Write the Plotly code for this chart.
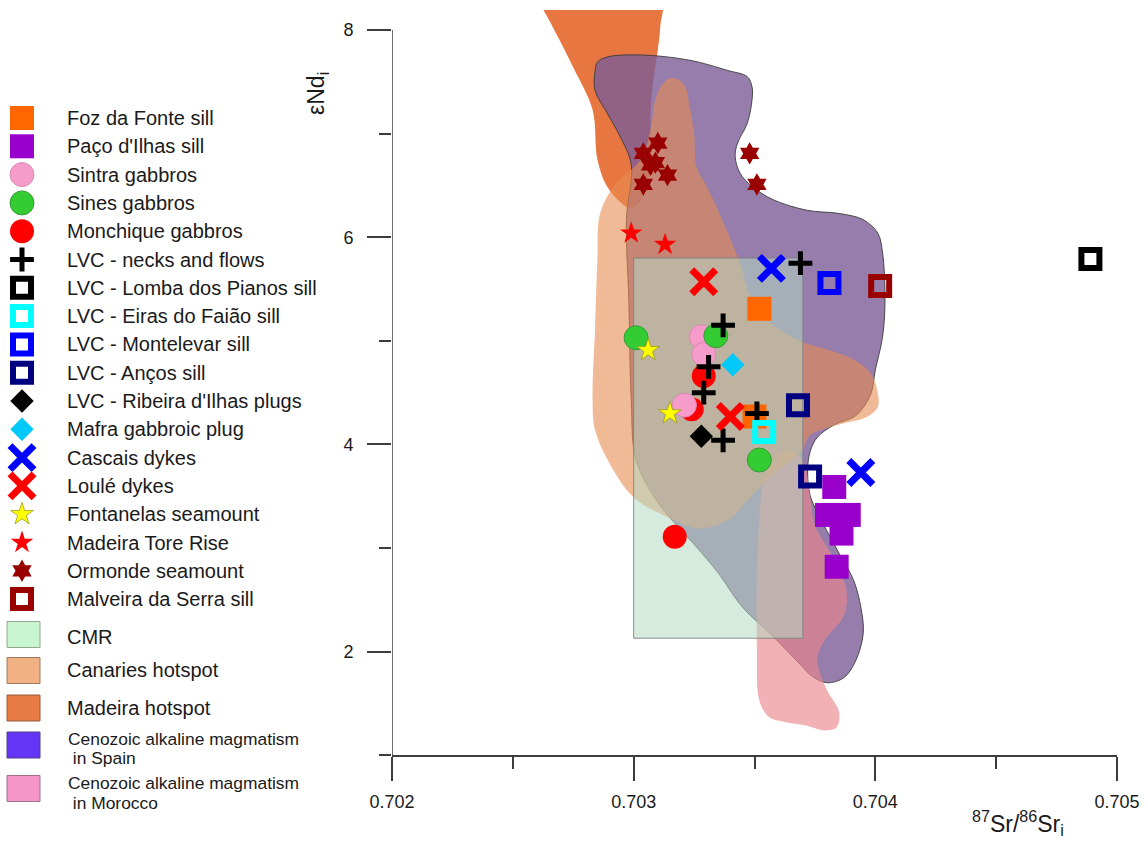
import plotly.graph_objects as go

FIG_W, FIG_H = 1148, 841

# ---------------- sample data: 87Sr/86Sr(i) vs eNd(i) ----------------
foz_sr = [0.70352, 0.70350]
foz_nd = [5.31, 4.27]
paco_sr = [0.70383, 0.70380, 0.70389, 0.70386, 0.70384]
paco_nd = [3.59, 3.32, 3.32, 3.14, 2.82]
sintra_sr = [0.70328, 0.70329, 0.70321]
sintra_nd = [5.04, 4.87, 4.38]
sines_sr = [0.70301, 0.70334, 0.70352]
sines_nd = [5.03, 5.05, 3.85]
monchique_sr = [0.70329, 0.70324, 0.70317]
monchique_nd = [4.66, 4.34, 3.11]
necks_sr = [0.70369, 0.70337, 0.70331, 0.70329, 0.70351, 0.70337]
necks_nd = [5.75, 5.15, 4.75, 4.50, 4.30, 4.04]
lomba_sr = [0.70489]
lomba_nd = [5.79]
eiras_sr = [0.70354]
eiras_nd = [4.12]
montelevar_sr = [0.70381]
montelevar_nd = [5.56]
ancos_sr = [0.70368, 0.70373]
ancos_nd = [4.38, 3.69]
ribeira_sr = [0.70328]
ribeira_nd = [4.08]
mafra_sr = [0.70341]
mafra_nd = [4.77]
cascais_sr = [0.70357, 0.70394]
cascais_nd = [5.70, 3.73]
loule_sr = [0.70329, 0.70340]
loule_nd = [5.57, 4.27]
fontanelas_sr = [0.70306, 0.70315]
fontanelas_nd = [4.91, 4.30]
tore_sr = [0.70299, 0.70313]
tore_nd = [6.04, 5.93]
ormonde_sr = [0.70310, 0.70304, 0.70307, 0.70309, 0.70314, 0.70304, 0.70348, 0.70351]
ormonde_nd = [6.91, 6.81, 6.70, 6.72, 6.60, 6.51, 6.81, 6.51]
malveira_sr = [0.70402]
malveira_nd = [5.53]

# ---------------- reference fields (outline vertices, Sr / Nd) ----------------
madeira_outline = [(0.70311, 8.40), (0.70257, 8.40), (0.70263, 8.18), (0.70275, 7.64),
                   (0.70283, 7.23), (0.70285, 6.75), (0.70289, 6.49), (0.70296, 6.31),
                   (0.70299, 6.28), (0.70303, 6.36), (0.70306, 6.55), (0.70307, 6.84),
                   (0.70307, 7.23), (0.70308, 7.49), (0.70310, 7.81), (0.70311, 8.03)]
spain_outline = [(0.70303, 7.76), (0.70323, 7.71), (0.70339, 7.61), (0.70347, 7.55),
                 (0.70349, 7.45), (0.70349, 7.33), (0.70347, 7.10), (0.70343, 6.91),
                 (0.70342, 6.78), (0.70344, 6.62), (0.70349, 6.49), (0.70358, 6.36),
                 (0.70372, 6.26), (0.70385, 6.23), (0.70395, 6.17), (0.70401, 6.04),
                 (0.70403, 5.85), (0.70404, 5.39), (0.70403, 5.04), (0.70400, 4.72),
                 (0.70398, 4.48), (0.70392, 4.28), (0.70383, 4.19), (0.70376, 4.07),
                 (0.70373, 3.93), (0.70372, 3.75), (0.70373, 3.51), (0.70377, 3.30),
                 (0.70385, 2.95), (0.70391, 2.69), (0.70394, 2.43), (0.70395, 2.18),
                 (0.70392, 1.92), (0.70387, 1.75), (0.70380, 1.70), (0.70374, 1.76),
                 (0.70368, 1.90), (0.70358, 2.14), (0.70345, 2.43), (0.70335, 2.76),
                 (0.70326, 3.01), (0.70319, 3.19), (0.70310, 3.44), (0.70301, 3.85),
                 (0.70299, 4.43), (0.70298, 5.39), (0.70297, 6.17), (0.70299, 6.70),
                 (0.70294, 6.99), (0.70289, 7.20), (0.70284, 7.42), (0.70284, 7.60),
                 (0.70285, 7.69), (0.70289, 7.74)]
morocco_outline = [(0.70363, 3.93), (0.70368, 3.90), (0.70371, 3.77), (0.70373, 3.51),
                   (0.70375, 3.22), (0.70383, 2.89), (0.70388, 2.60), (0.70387, 2.35),
                   (0.70379, 2.11), (0.70376, 1.92), (0.70380, 1.63), (0.70385, 1.42),
                   (0.70384, 1.27), (0.70379, 1.24), (0.70371, 1.29), (0.70363, 1.32),
                   (0.70356, 1.37), (0.70352, 1.53), (0.70351, 2.02), (0.70351, 2.69),
                   (0.70352, 3.27), (0.70354, 3.66), (0.70359, 3.87)]
canaries_outline = [(0.70316, 7.54), (0.70321, 7.47), (0.70323, 7.28), (0.70325, 7.01),
                    (0.70326, 6.68), (0.70330, 6.50), (0.70333, 6.36), (0.70339, 6.04),
                    (0.70344, 5.75), (0.70349, 5.39), (0.70359, 5.13), (0.70370, 4.99),
                    (0.70381, 4.91), (0.70391, 4.82), (0.70398, 4.69), (0.70401, 4.50),
                    (0.70401, 4.36), (0.70396, 4.26), (0.70388, 4.21), (0.70380, 4.16),
                    (0.70373, 4.09), (0.70369, 3.92), (0.70358, 3.72), (0.70347, 3.46),
                    (0.70339, 3.27), (0.70327, 3.19), (0.70314, 3.30), (0.70300, 3.49),
                    (0.70290, 3.82), (0.70284, 4.14), (0.70283, 4.43), (0.70284, 5.11),
                    (0.70285, 5.78), (0.70286, 6.22), (0.70292, 6.50), (0.70303, 6.75),
                    (0.70307, 7.04), (0.70309, 7.33), (0.70312, 7.48)]
cmr_sr = [0.70300, 0.70370]
cmr_nd = [2.13, 5.80]

# axis ticks
x_major = [0.702, 0.703, 0.704, 0.705]
x_minor = [0.7025, 0.7035, 0.7045]
y_major = [2, 4, 6, 8]
y_minor = [1, 3, 5, 7]

# legend entries (symbol series, then field swatches)
legend_labels = ["Foz da Fonte sill", "Paço d'Ilhas sill", "Sintra gabbros", "Sines gabbros",
                 "Monchique gabbros", "LVC - necks and flows", "LVC - Lomba dos Pianos sill",
                 "LVC - Eiras do Faião sill", "LVC - Montelevar sill", "LVC - Anços sill",
                 "LVC - Ribeira d'Ilhas plugs", "Mafra gabbroic plug", "Cascais dykes",
                 "Loulé dykes", "Fontanelas seamount", "Madeira Tore Rise", "Ormonde seamount",
                 "Malveira da Serra sill"]
field_labels = [["CMR"], ["Canaries hotspot"], ["Madeira hotspot"],
                ["Cenozoic alkaline magmatism", " in Spain"],
                ["Cenozoic alkaline magmatism", " in Morocco"]]

AX = "#3c3c3c"
TXT = "#1a1a1a"
FONT = "Liberation Sans, Arial, sans-serif"


def open_sq(c):
    return dict(symbol="square-open", size=18, color=c, line=dict(width=6, color=c))


def thin(sym, size, c, w):
    return dict(symbol=sym, size=size, color=c, line=dict(width=w, color=c))


series = {
    "Foz da Fonte sill": (foz_sr, foz_nd, dict(symbol="square", size=24, color="#FF6600", line=dict(width=0))),
    "Paço d'Ilhas sill": (paco_sr, paco_nd, dict(symbol="square", size=24, color="#9900CC", line=dict(width=0))),
    "Sintra gabbros": (sintra_sr, sintra_nd, dict(symbol="circle", size=24, color="#F79BCB", line=dict(width=1, color="#D98AB4"))),
    "Sines gabbros": (sines_sr, sines_nd, dict(symbol="circle", size=24, color="#33CC33", line=dict(width=1, color="#3A9A3A"))),
    "Monchique gabbros": (monchique_sr, monchique_nd, dict(symbol="circle", size=24, color="#FF0000", line=dict(width=0))),
    "LVC - necks and flows": (necks_sr, necks_nd, thin("cross-thin", 17, "#000000", 5)),
    "LVC - Lomba dos Pianos sill": (lomba_sr, lomba_nd, open_sq("#000000")),
    "LVC - Eiras do Faião sill": (eiras_sr, eiras_nd, open_sq("#00FFFF")),
    "LVC - Montelevar sill": (montelevar_sr, montelevar_nd, open_sq("#0000FF")),
    "LVC - Anços sill": (ancos_sr, ancos_nd, open_sq("#000080")),
    "LVC - Ribeira d'Ilhas plugs": (ribeira_sr, ribeira_nd, dict(symbol="diamond", size=18, color="#000000", line=dict(width=0))),
    "Mafra gabbroic plug": (mafra_sr, mafra_nd, dict(symbol="diamond", size=18, color="#00C8F8", line=dict(width=0))),
    "Cascais dykes": (cascais_sr, cascais_nd, thin("x-thin", 24, "#0000FF", 7)),
    "Loulé dykes": (loule_sr, loule_nd, thin("x-thin", 24, "#FF0000", 7)),
    "Fontanelas seamount": (fontanelas_sr, fontanelas_nd, dict(symbol="star", size=17, color="#FFFF00", line=dict(width=0.8, color="#9A9A20"))),
    "Madeira Tore Rise": (tore_sr, tore_nd, dict(symbol="star", size=17, color="#FF0000", line=dict(width=0))),
    "Ormonde seamount": (ormonde_sr, ormonde_nd, dict(symbol="hexagram", size=17, color="#990000", line=dict(width=0))),
    "Malveira da Serra sill": (malveira_sr, malveira_nd, open_sq("#990000")),
}

draw_order = ["Paço d'Ilhas sill", "Foz da Fonte sill", "Monchique gabbros", "Sintra gabbros",
              "Sines gabbros", "LVC - necks and flows", "LVC - Lomba dos Pianos sill",
              "LVC - Eiras do Faião sill", "LVC - Montelevar sill", "LVC - Anços sill",
              "LVC - Ribeira d'Ilhas plugs", "Mafra gabbroic plug", "Cascais dykes",
              "Loulé dykes", "Fontanelas seamount", "Madeira Tore Rise", "Ormonde seamount",
              "Malveira da Serra sill"]

fig = go.Figure()


def add_field(outline, fill, line_color=None, line_width=0, smooth=True):
    xs = [p[0] for p in outline] + [outline[0][0]]
    ys = [p[1] for p in outline] + [outline[0][1]]
    fig.add_trace(go.Scatter(
        x=xs, y=ys, mode="lines", fill="toself", fillcolor=fill,
        line=dict(shape="spline" if smooth else "linear", smoothing=1.0,
                  width=line_width, color=line_color or "rgba(0,0,0,0)"),
        hoverinfo="skip", showlegend=False))


# reference fields, back to front
add_field(madeira_outline, "rgb(232,118,64)")
add_field(spain_outline, "rgba(124,93,151,0.8)", "rgba(60,60,60,0.9)", 1)
add_field(morocco_outline, "rgba(235,135,140,0.65)")
add_field(canaries_outline, "rgba(232,140,80,0.6)")
cmr_box = [(cmr_sr[0], cmr_nd[0]), (cmr_sr[1], cmr_nd[0]), (cmr_sr[1], cmr_nd[1]), (cmr_sr[0], cmr_nd[1])]
add_field(cmr_box, "rgba(180,217,195,0.55)", "rgba(130,130,130,0.9)", 1, smooth=False)

# samples
for name in draw_order:
    xs, ys, mk = series[name]
    fig.add_trace(go.Scatter(x=xs, y=ys, mode="markers", marker=mk, name=name,
                             showlegend=False, cliponaxis=False))

# ---------------- legend panel (pixel-scaled helper axes) ----------------
LEG_W = 330
row_y = [118 + 28.3 * i for i in range(len(legend_labels))]
annotations = []
for label, yy in zip(legend_labels, row_y):
    _, _, mk = series[label]
    fig.add_trace(go.Scatter(x=[22], y=[yy], mode="markers", marker=mk, xaxis="x2", yaxis="y2",
                             showlegend=False, hoverinfo="skip", cliponaxis=False))
    annotations.append(dict(x=65, y=yy, xref="x2", yref="y2", text=label, showarrow=False,
                            xanchor="left", yanchor="middle",
                            font=dict(family=FONT, size=20, color=TXT)))

swatch_fill = ["#C8F5CD", "#F0B283", "#E87A46", "#6435F5", "#F596C8"]
swatch_line = ["#8FA890", "#A07860", "#9A5A3A", "#55408A", "#A07090"]
swatch_y = [634.5, 670.5, 708, 745, 788.5]
text_rows = [[637], [670], [708], [739, 758], [783, 803]]
shapes = []
for lines, fillc, linec, yc, ty in zip(field_labels, swatch_fill, swatch_line, swatch_y, text_rows):
    shapes.append(dict(type="rect", xref="x2", yref="y2", x0=7, x1=40, y0=yc - 13, y1=yc + 13,
                       fillcolor=fillc, line=dict(color=linec, width=1)))
    small = len(lines) > 1
    for txt, tyy in zip(lines, ty):
        annotations.append(dict(x=66 if small else 65, y=tyy, xref="x2", yref="y2",
                                text=txt.replace(" ", "&nbsp;", 1) if txt.startswith(" ") else txt,
                                showarrow=False, xanchor="left", yanchor="middle",
                                font=dict(family=FONT, size=17.4 if small else 20, color=TXT)))

# y axis line drawn only between Nd = 1 and 8
shapes.append(dict(type="line", xref="x", yref="y", x0=x_major[0], x1=x_major[0],
                   y0=y_minor[0], y1=y_major[-1], line=dict(color=AX, width=1.5), layer="above"))

# axis titles
annotations.append(dict(x=1018 / FIG_W, y=1 - 823 / FIG_H, xref="paper", yref="paper",
                        text="<sup>87</sup>Sr/<sup>86</sup>Sr<sub>i</sub>", showarrow=False,
                        xanchor="center", yanchor="middle",
                        font=dict(family=FONT, size=23, color=TXT)))
annotations.append(dict(x=317 / FIG_W, y=1 - 94 / FIG_H, xref="paper", yref="paper",
                        text="εNd<sub>i</sub>", showarrow=False, textangle=-90,
                        xanchor="center", yanchor="middle",
                        font=dict(family=FONT, size=23, color=TXT)))

tick_font = dict(family=FONT, size=18, color=TXT)
fig.update_layout(
    width=FIG_W, height=FIG_H, margin=dict(l=0, r=0, t=0, b=0, autoexpand=False),
    paper_bgcolor="white", plot_bgcolor="rgba(0,0,0,0)", showlegend=False,
    xaxis=dict(domain=[392 / FIG_W, 1117 / FIG_W], range=[0.70199999, 0.70500001],
               tickmode="array", tickvals=x_major, ticktext=[f"{v:.3f}" for v in x_major],
               ticks="outside", ticklen=24, tickwidth=1.5, tickcolor=AX,
               showline=True, linecolor=AX, linewidth=1.5, showgrid=False, zeroline=False,
               tickfont=tick_font, ticklabelstandoff=5, automargin=False,
               minor=dict(tickmode="array", tickvals=x_minor, ticks="outside", ticklen=12,
                          tickwidth=1.5, tickcolor=AX, showgrid=False),
               anchor="y", fixedrange=True),
    yaxis=dict(domain=[1 - 755.3 / FIG_H, 1 - 10 / FIG_H], range=[0.9999, 8.194],
               tickmode="array", tickvals=y_major, ticktext=[str(v) for v in y_major],
               ticks="outside", ticklen=24, tickwidth=1.5, tickcolor=AX,
               showline=False, showgrid=False, zeroline=False,
               tickfont=tick_font, ticklabelstandoff=10, automargin=False,
               minor=dict(tickmode="array", tickvals=y_minor, ticks="outside", ticklen=12,
                          tickwidth=1.5, tickcolor=AX, showgrid=False),
               anchor="x", fixedrange=True),
    xaxis2=dict(domain=[0, LEG_W / FIG_W], range=[0, LEG_W], visible=False, anchor="y2",
                automargin=False, fixedrange=True),
    yaxis2=dict(domain=[0, 1], range=[FIG_H, 0], visible=False, anchor="x2",
                automargin=False, fixedrange=True),
    shapes=shapes,
    annotations=annotations,
)

fig.write_html("out.html")
